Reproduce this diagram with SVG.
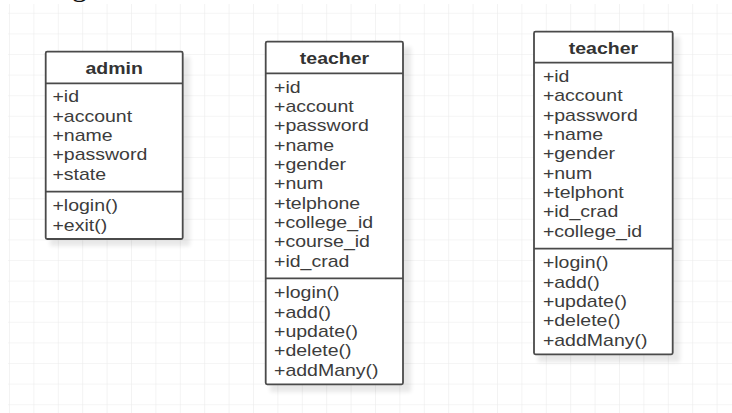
<svg xmlns="http://www.w3.org/2000/svg" width="732" height="413" viewBox="0 0 732 413">
  <style>
    .box { fill: #ffffff; stroke: #4a4a4a; stroke-width: 1.8; }
    .sep { stroke: #4a4a4a; stroke-width: 1.8; fill: none; }
    .shadow { fill: #000000; opacity: 0.09; }
    .title { font-family: "Liberation Sans", Arial, sans-serif; font-size: 16px; font-weight: bold; fill: #333333; text-anchor: middle; }
    .item { font-family: "Liberation Sans", Arial, sans-serif; font-size: 16px; fill: #3c3c3c; }
    .cap { font-family: "Liberation Serif", "Times New Roman", serif; font-size: 30px; fill: #111111; }
  </style>
  <defs>
    <pattern id="grid" x="9" y="12.8" width="24.4" height="20.6" patternUnits="userSpaceOnUse">
      <path d="M0 0 H24.4 M0 0 V20.6" stroke="#ebebeb" stroke-width="1.2" fill="none"/>
    </pattern>
    <filter id="soft" x="-10%" y="-10%" width="130%" height="130%">
      <feGaussianBlur stdDeviation="2"/>
    </filter>
  </defs>

  <!-- page background and grid -->
  <rect x="0" y="0" width="732" height="413" fill="#ffffff"/>
  <rect x="8" y="4" width="724" height="409" fill="url(#grid)"/>

  <!-- heading fragment at the top edge -->
  <text class="cap" x="72" y="-4">g</text>

  <!-- admin class -->
  <g id="admin">
    <rect class="shadow" x="50" y="57" width="140" height="189" filter="url(#soft)"/>
    <rect class="box" x="45.7" y="51.7" width="137" height="187.3" rx="1.5"/>
    <line class="sep" x1="45.7" y1="83.3" x2="182.7" y2="83.3"/>
    <line class="sep" x1="45.7" y1="191.7" x2="182.7" y2="191.7"/>
    <g transform="scale(1.22 1)">
      <text class="title" x="93.6" y="73.8">admin</text>
      <text class="item" x="43" y="102.3">+id</text>
      <text class="item" x="43" y="121.6">+account</text>
      <text class="item" x="43" y="141">+name</text>
      <text class="item" x="43" y="160.3">+password</text>
      <text class="item" x="43" y="179.7">+state</text>
      <text class="item" x="43" y="211.3">+login()</text>
      <text class="item" x="43" y="230.6">+exit()</text>
    </g>
  </g>

  <!-- teacher class (middle) -->
  <g id="teacher-1">
    <rect class="shadow" x="270" y="47" width="141" height="345" filter="url(#soft)"/>
    <rect class="box" x="265.7" y="41.7" width="137.3" height="342.6" rx="1.5"/>
    <line class="sep" x1="265.7" y1="73.3" x2="403" y2="73.3"/>
    <line class="sep" x1="265.7" y1="278.3" x2="403" y2="278.3"/>
    <g transform="scale(1.22 1)">
      <text class="title" x="274.2" y="63.8">teacher</text>
      <text class="item" x="224.6" y="92.7">+id</text>
      <text class="item" x="224.6" y="112">+account</text>
      <text class="item" x="224.6" y="131.4">+password</text>
      <text class="item" x="224.6" y="150.7">+name</text>
      <text class="item" x="224.6" y="170.1">+gender</text>
      <text class="item" x="224.6" y="189.4">+num</text>
      <text class="item" x="224.6" y="208.8">+telphone</text>
      <text class="item" x="224.6" y="228.1">+college_id</text>
      <text class="item" x="224.6" y="247.5">+course_id</text>
      <text class="item" x="224.6" y="266.8">+id_crad</text>
      <text class="item" x="224.6" y="298.3">+login()</text>
      <text class="item" x="224.6" y="317.6">+add()</text>
      <text class="item" x="224.6" y="337">+update()</text>
      <text class="item" x="224.6" y="356.3">+delete()</text>
      <text class="item" x="224.6" y="375.7">+addMany()</text>
    </g>
  </g>

  <!-- teacher class (right) -->
  <g id="teacher-2">
    <rect class="shadow" x="538" y="37" width="142" height="325" filter="url(#soft)"/>
    <rect class="box" x="534" y="31.7" width="138.7" height="322.6" rx="1.5"/>
    <line class="sep" x1="534" y1="62.7" x2="672.7" y2="62.7"/>
    <line class="sep" x1="534" y1="248.7" x2="672.7" y2="248.7"/>
    <g transform="scale(1.22 1)">
      <text class="title" x="494.6" y="53.8">teacher</text>
      <text class="item" x="445" y="82.1">+id</text>
      <text class="item" x="445" y="101.4">+account</text>
      <text class="item" x="445" y="120.8">+password</text>
      <text class="item" x="445" y="140.1">+name</text>
      <text class="item" x="445" y="159.5">+gender</text>
      <text class="item" x="445" y="178.8">+num</text>
      <text class="item" x="445" y="198.2">+telphont</text>
      <text class="item" x="445" y="217.5">+id_crad</text>
      <text class="item" x="445" y="236.9">+college_id</text>
      <text class="item" x="445" y="268.3">+login()</text>
      <text class="item" x="445" y="287.6">+add()</text>
      <text class="item" x="445" y="307">+update()</text>
      <text class="item" x="445" y="326.3">+delete()</text>
      <text class="item" x="445" y="345.7">+addMany()</text>
    </g>
  </g>

  <!-- no associations are drawn between the classes -->
  <g id="connectors"></g>
</svg>
